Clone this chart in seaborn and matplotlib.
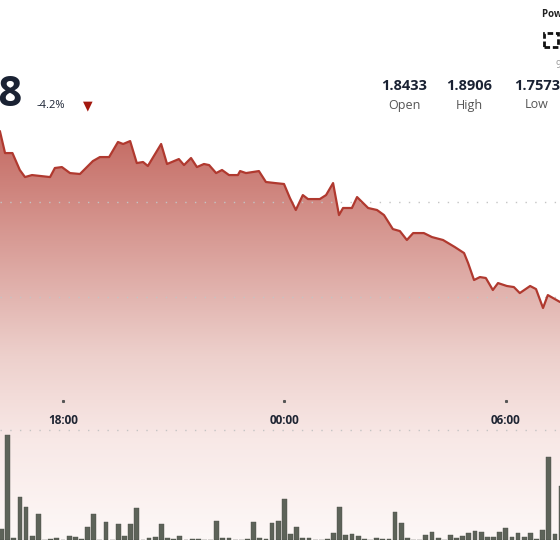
import matplotlib
matplotlib.use("Agg")
import matplotlib.pyplot as plt
import numpy as np
import seaborn as sns
from matplotlib.colors import LinearSegmentedColormap
from matplotlib.patches import Rectangle

# hours after 18:00
horas = [-1.71, -1.57, -1.37, -1.17, -1.03, -0.84, -0.35, -0.22, -0.03, 0.19,
         0.46, 0.81, 1.00, 1.25, 1.49, 1.63, 1.82, 2.00, 2.17, 2.30,
         2.66, 2.82, 3.14, 3.28, 3.47, 3.63, 3.82, 3.96, 4.15, 4.31,
         4.50, 4.74, 4.80, 4.96, 5.31, 5.50, 5.75, 5.99, 6.15, 6.31,
         6.50, 6.64, 6.96, 7.13, 7.32, 7.48, 7.59, 7.83, 7.97, 8.27,
         8.51, 8.70, 8.94, 9.13, 9.32, 9.49, 9.78, 10.00, 10.30, 10.62,
         10.87, 10.98, 11.14, 11.30, 11.46, 11.65, 11.79, 12.03, 12.22, 12.38,
         12.66, 12.82, 13.01, 13.14, 13.47]
precio = [1.8906, 1.8741, 1.8741, 1.8614, 1.8561, 1.8576, 1.8561, 1.8629, 1.8636, 1.8591,
          1.8584, 1.8681, 1.8711, 1.8711, 1.8824, 1.8809, 1.8831, 1.8666, 1.8674, 1.8644,
          1.8809, 1.8659, 1.8696, 1.8651, 1.8704, 1.8636, 1.8659, 1.8651, 1.8591, 1.8614,
          1.8576, 1.8576, 1.8606, 1.8591, 1.8606, 1.8524, 1.8516, 1.8509, 1.8404, 1.8314,
          1.8426, 1.8396, 1.8396, 1.8426, 1.8516, 1.8276, 1.8329, 1.8329, 1.8411, 1.8329,
          1.8314, 1.8276, 1.8171, 1.8156, 1.8089, 1.8141, 1.8141, 1.8111, 1.8089, 1.8036,
          1.7991, 1.7916, 1.7789, 1.7811, 1.7804, 1.7714, 1.7766, 1.7744, 1.7736, 1.7691,
          1.7744, 1.7721, 1.7579, 1.7676, 1.7624]

# 10-minute volume bars starting 16:20
volumen = [11, 105, 2, 43, 33, 4, 26, 0.5, 1, 2, 0.5, 4, 3, 1, 13, 26, 0.5, 18, 0.5, 16,
           4, 16, 32, 0.5, 2, 3, 16, 2, 1, 4, 0.5, 1, 1, 0.5, 0.5, 19, 2, 2, 0.5, 0.5,
           1, 18, 2, 1, 17, 19, 41, 6, 13, 2, 2, 0.5, 0.5, 1, 7, 33, 5, 6, 4, 1,
           0.5, 2, 1, 1, 28, 17, 2, 0.5, 0.5, 5, 8, 2, 0.5, 5, 2, 4, 7, 9, 8, 3,
           3, 8, 12, 3, 7, 3, 7, 1, 10, 83, 6, 54]
ticks_horas = [0, 6, 12]
ticks_labels = ["18:00", "00:00", "06:00"]
grid_precios = [1.8374, 1.7661]

sns.set_theme(style="white")
plt.rcParams["font.family"] = ["Open Sans", "DejaVu Sans"]

W, H = 560, 540
fig = plt.figure(figsize=(W / 100, H / 100), dpi=100)
fig.patch.set_facecolor("white")

x0, x1 = -1.707, 13.47
y_top, y_bot = 1.9889, 1.5839

ax = fig.add_axes([0, 0, 1, 1])
ax.set_xlim(x0, x1)
ax.set_ylim(y_bot, y_top)
ax.axis("off")

# gradient fill under price
cmap = LinearSegmentedColormap.from_list(
    "g", [(0.0, "#c46a62"), (0.55, "#edd0cc"), (0.75, "#f8e8e6"), (1.0, "#fdf8f7")])
grad = np.linspace(0, 1, 256).reshape(-1, 1)
img = ax.imshow(grad, aspect="auto", cmap=cmap,
                extent=[x0, x1, y_bot, 1.8906], origin="upper", zorder=1)
poly = ax.fill_between(horas, precio, y_bot, color="none", lw=0)
img.set_clip_path(poly.get_paths()[0], transform=ax.transData)
sns.lineplot(x=horas, y=precio, ax=ax, color="#b0392f", lw=1.6, zorder=3)

for g in grid_precios:
    ax.axhline(g, color="#c4c4c4", ls=(0, (1, 6)), lw=1, zorder=2)
ax.axhline(1.6664, color="#c4c4c4", ls=(0, (1, 6)), lw=1, zorder=2)
for h, lab in zip(ticks_horas, ticks_labels):
    ax.plot([h], [1.6884], marker="s", ms=1.2, color="#555555", zorder=3)
    ax.text(h, 1.6733, lab, ha="center", va="center", fontsize=8.5,
            fontweight="bold", color="#1f2533", zorder=4)

# volume
axv = fig.add_axes([0, 0, 1, 0.2])
axv.patch.set_alpha(0)
t_vol = [-10 / 6 + k / 6 for k in range(len(volumen))]
axv.bar(t_vol, volumen, width=0.13, color="#5d6359", edgecolor="#4a4f47", lw=0.3)
axv.set_xlim(x0, x1)
axv.set_ylim(0, 108)
axv.axis("off")

def px(x, y):
    return x / W, 1 - y / H

fig.text(*px(23, 95), "1.7918", ha="right", va="center", fontsize=30,
         fontweight="bold", color="#1a2233")
fig.text(*px(37, 105), "-4.2%", ha="left", va="center", fontsize=8,
         color="#1a2233")
fig.text(*px(88, 106), "▼", ha="center", va="center", fontsize=9,
         color="#a3180e", family="DejaVu Sans")
for xc, val, lab in [(404, "1.8433", "Open"), (469, "1.8906", "High"),
                     (537, "1.7573", "Low")]:
    fig.text(*px(xc, 86), val, ha="center", va="center", fontsize=10.5,
             fontweight="bold", color="#1a2233")
    fig.text(*px(xc, 105), lab, ha="center", va="center", fontsize=9,
             color="#555555")
fig.text(*px(542, 15), "Powered by", ha="left", va="center", fontsize=7,
         fontweight="bold", color="#222222")
# logo icon (dotted square)
fig.patches.append(Rectangle(px(544, 47), 14 / W, 14 / H, transform=fig.transFigure,
                             fill=False, ec="#111111", lw=2, ls=(0, (2, 1))))
fig.text(*px(555, 66), "9", ha="left", va="center", fontsize=7, color="#999999")

fig.savefig("out.png", dpi=100, facecolor="white")
